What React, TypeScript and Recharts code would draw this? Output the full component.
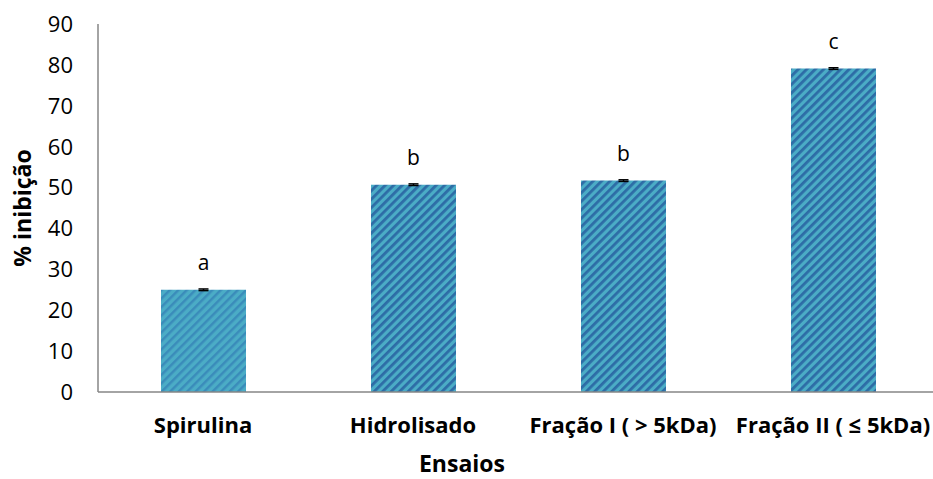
import React from 'react';
import { BarChart, Bar, XAxis, YAxis, ErrorBar, LabelList, Cell } from 'recharts';

const categories = ['Spirulina', 'Hidrolisado', 'Fração I ( > 5kDa)', 'Fração II ( ≤ 5kDa)'];
const inhibition = [25.0, 50.7, 51.7, 79.1];
const errors = [0.2, 0.2, 0.2, 0.2];
const letters = ['a', 'b', 'b', 'c'];
const yTicks = [0, 10, 20, 30, 40, 50, 60, 70, 80, 90];

const data = categories.map((c, i) => ({ name: c, value: inhibition[i], err: errors[i], letter: letters[i] }));

const FONT = '"Open Sans", "Liberation Sans", sans-serif';

const LetterLabel = (props: any) => {
  const { x, y, width, value } = props;
  return (
    <text x={x + width / 2} y={y - 20} textAnchor="middle" style={{ fontSize: 21, fontFamily: FONT }} fill="#000">
      {value}
    </text>
  );
};

const XTick = (props: any) => {
  const { x, y, payload } = props;
  return (
    <text x={x} y={y + 41} textAnchor="middle" fill="#000" style={{ fontSize: 22, fontWeight: 700, fontFamily: FONT }}>
      {payload.value}
    </text>
  );
};

const YTick = (props: any) => {
  const { x, y, payload } = props;
  return (
    <text x={x - 25} y={y} dy="0.36em" textAnchor="end" fill="#000" style={{ fontSize: 22, fontFamily: FONT }}>
      {payload.value}
    </text>
  );
};

const XTitle = (props: any) => {
  const vb = props.viewBox || {};
  const cx = (vb.x ?? 0) + (vb.width ?? 0) / 2;
  return (
    <text x={cx - 56} y={472} textAnchor="middle" fill="#000" style={{ fontSize: 23, fontWeight: 700, fontFamily: FONT }}>
      Ensaios
    </text>
  );
};

const YTitle = (props: any) => {
  const vb = props.viewBox || {};
  const cy = (vb.y ?? 0) + (vb.height ?? 0) / 2;
  return (
    <text x={23} y={cy} transform={`rotate(-90, 23, ${cy})`} dy="0.36em" textAnchor="middle" fill="#000" style={{ fontSize: 23, fontWeight: 700, fontFamily: FONT }}>
      % inibição
    </text>
  );
};

export default function App() {
  return (
    <div style={{ position: 'absolute', left: 0, top: 0, width: 933, height: 479, overflow: 'hidden', background: '#fff' }}>
      <BarChart width={940} height={479} data={data} margin={{ top: 24, right: 2, left: 0, bottom: 0 }}>
        <defs>
          <pattern id="stripeLight" patternUnits="userSpaceOnUse" width="6" height="6" patternTransform="rotate(-45)">
            <rect x="0" y="0" width="6" height="6" fill="#4BACC6" />
            <rect x="0" y="0" width="6" height="2.5" fill="#3A8CBA" />
          </pattern>
          <pattern id="stripeDark" patternUnits="userSpaceOnUse" width="6" height="6" patternTransform="rotate(-45)">
            <rect x="0" y="0" width="6" height="6" fill="#4BACC6" />
            <rect x="0" y="0" width="6" height="2.8" fill="#2D6CA6" />
          </pattern>
        </defs>
        <XAxis
          dataKey="name"
          height={87}
          axisLine={{ stroke: '#868686', strokeWidth: 1.5 }}
          tickLine={false}
          tickSize={0}
          tickMargin={0}
          interval={0}
          tick={<XTick />}
          label={<XTitle />}
        />
        <YAxis
          width={98}
          domain={[0, 90]}
          ticks={yTicks}
          axisLine={{ stroke: '#868686', strokeWidth: 1.5 }}
          tickLine={false}
          tickSize={0}
          tickMargin={0}
          tick={<YTick />}
          label={<YTitle />}
        />
        <Bar dataKey="value" barSize={85} isAnimationActive={false}>
          {data.map((d, i) => (
            <Cell key={i} fill={i === 0 ? 'url(#stripeLight)' : 'url(#stripeDark)'} />
          ))}
          <ErrorBar dataKey="err" width={5} stroke="#000" strokeWidth={1.5} direction="y" />
          <LabelList dataKey="letter" content={<LetterLabel />} />
        </Bar>
      </BarChart>
    </div>
  );
}
